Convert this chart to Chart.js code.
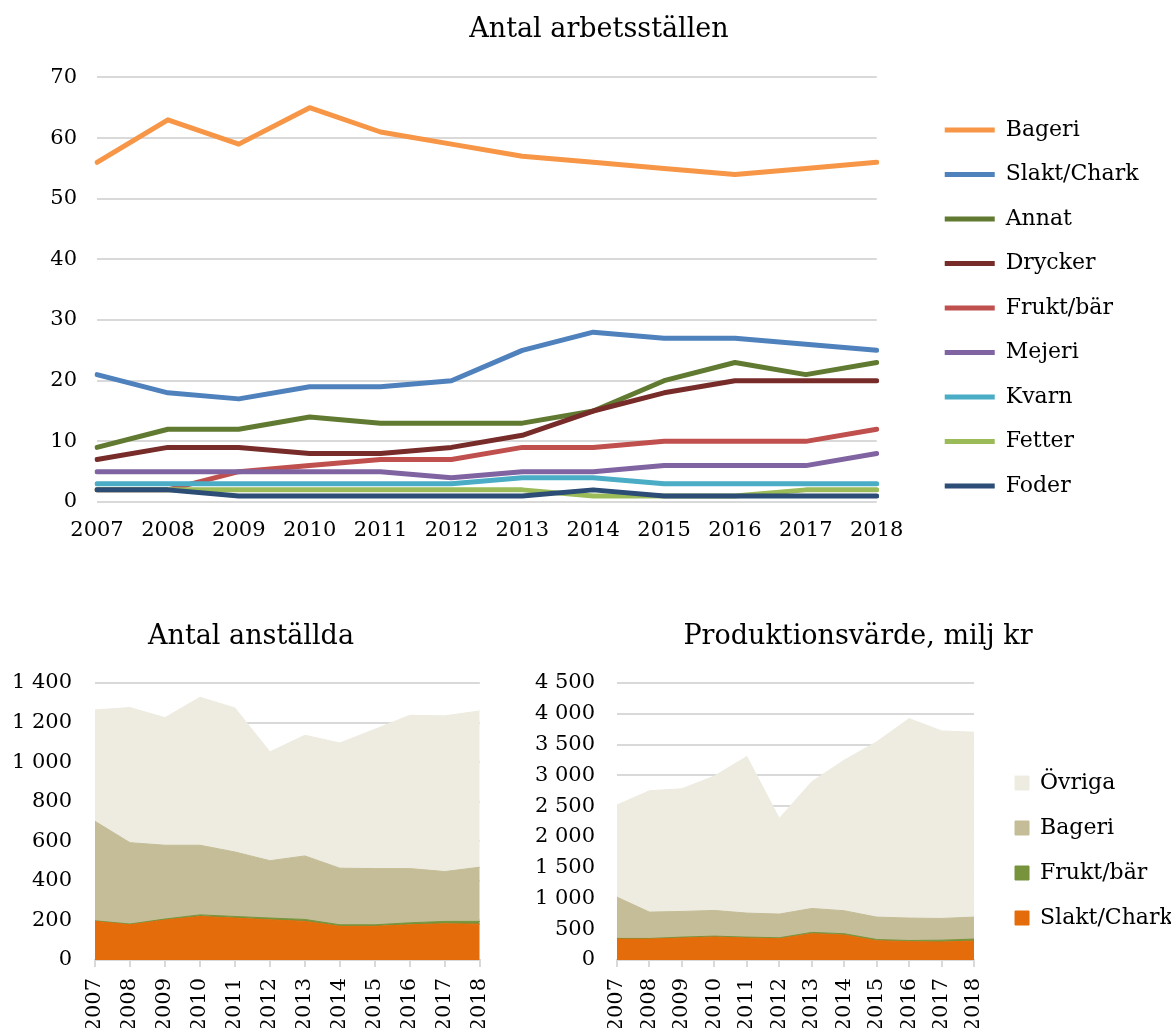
<!DOCTYPE html>
<html><head><meta charset="utf-8">
<script src="https://cdn.jsdelivr.net/npm/chart.js@4"></script>
<style>
html,body{margin:0;padding:0;background:#fff;overflow:hidden;width:1171px;height:1028px;}
canvas{position:absolute;}
#c1{left:0;top:0;}
#c2{left:0;top:600px;}
#c3{left:510px;top:600px;}
</style></head><body>
<canvas id="c1" width="1171" height="560"></canvas>
<canvas id="c2" width="516" height="428"></canvas>
<canvas id="c3" width="664" height="428"></canvas>
<script>
// ---------- data ----------
const YEARS = ['2007','2008','2009','2010','2011','2012','2013','2014','2015','2016','2017','2018'];

// Antal arbetsställen
const TOP_NAMES = ['Bageri','Slakt/Chark','Annat','Drycker','Frukt/bär','Mejeri','Kvarn','Fetter','Foder'];
const bageriSt   = [56,63,59,65,61,59,57,56,55,54,55,56];
const slaktSt    = [21,18,17,19,19,20,25,28,27,27,26,25];
const annatSt    = [9,12,12,14,13,13,13,15,20,23,21,23];
const dryckerSt  = [7,9,9,8,8,9,11,15,18,20,20,20];
const fruktSt    = [2,2,5,6,7,7,9,9,10,10,10,12];
const mejeriSt   = [5,5,5,5,5,4,5,5,6,6,6,8];
const kvarnSt    = [3,3,3,3,3,3,4,4,3,3,3,3];
const fetterSt   = [2,2,2,2,2,2,2,1,1,1,2,2];
const foderSt    = [2,2,1,1,1,1,1,2,1,1,1,1];
const TOP_VALUES = [bageriSt,slaktSt,annatSt,dryckerSt,fruktSt,mejeriSt,kvarnSt,fetterSt,foderSt];
const TOP_TICKS = {min:0, max:70, step:10};

// Antal anställda (stacked)
const AREA_NAMES = ['Slakt/Chark','Frukt/bär','Bageri','Övriga'];
const anstSlakt  = [195,178,202,220,212,203,195,170,170,178,183,181];
const anstFrukt  = [3,4,5,8,8,9,10,8,8,10,12,14];
const anstBageri = [503,411,373,352,326,290,321,286,284,274,252,274];
const anstOvriga = [563,683,645,748,728,550,610,633,704,775,787,790];
const ANST_TICKS = {min:0, max:1400, step:200};

// Produktionsvärde, milj kr (stacked)
const prodSlakt  = [340,340,357,373,357,346,427,405,313,297,292,308];
const prodFrukt  = [10,10,15,15,15,15,21,22,20,20,30,32];
const prodBageri = [671,428,417,417,390,385,389,373,364,364,353,357];
const prodOvriga = [1497,1972,1993,2183,2544,1555,2059,2447,2847,3241,3047,3004];
const PROD_TICKS = {min:0, max:4500, step:500};

// ---------- styles ----------
const TOP_COLORS = ['#F79646','#4F81BD','#617A31','#772C2A','#C0504D','#8064A2','#4BACC6','#9BBB59','#2C4D75'];
const AREA_COLORS = ['#E46C0A','#77933C','#C4BD97','#EEECE1'];
const FAM = "'DejaVu Serif', serif";
const GRID = '#D9D9D9';
const tickFont = {family:FAM, size:21};
const legFont = {family:FAM, size:22};
const titleFont = {family:FAM, size:27, weight:'normal'};
const fmt = v => String(v).replace(/\B(?=(\d{3})+(?!\d))/g, ' ');

const nudge = {
  id:'nudge',
  afterLayout(chart, args, o) {
    if (o.titleX != null && chart.titleBlock) {
      const t = chart.titleBlock, w = t.right - t.left;
      t.left = o.titleX - w/2; t.right = o.titleX + w/2;
    }
    const l = chart.legend;
    if (l) {
      if (typeof l._draw === 'function' && !l._noClip) {
        l._noClip = true;
        l.draw = function(){ if (this.options.display) this._draw(); };
      }
      if (o.dx || o.dy) {
        l.left += o.dx||0; l.right += o.dx||0; l.top += o.dy||0; l.bottom += o.dy||0;
      }
    }
  }
};

// ---------- top chart ----------
new Chart(document.getElementById('c1'), {
  type:'line',
  data:{labels:YEARS, datasets: TOP_NAMES.map((n,i)=>({
    label:n, data:TOP_VALUES[i], borderColor:TOP_COLORS[i], backgroundColor:TOP_COLORS[i],
    borderWidth:5, pointRadius:0, pointHoverRadius:0, pointStyle:'line', tension:0,
    borderCapStyle:'round', borderJoinStyle:'round', fill:false, order: TOP_NAMES.length - i
  }))},
  options:{
    responsive:false, animation:false,
    layout:{padding:{left:0,right:68,top:0,bottom:16}},
    scales:{
      x:{grid:{display:false,drawTicks:false}, border:{display:false},
         ticks:{font:tickFont, color:'#000', padding:16, maxRotation:0, autoSkip:false},
         afterFit(s){ s.height = 42; }},
      y:{min:TOP_TICKS.min, max:TOP_TICKS.max,
         ticks:{stepSize:TOP_TICKS.step, font:tickFont, color:'#000', padding:20},
         grid:{color:GRID, lineWidth:2, drawTicks:false}, border:{display:false},
         afterFit(s){ s.width = 97; }}
    },
    plugins:{
      title:{display:true, text:'Antal arbetsställen', font:titleFont, color:'#000', padding:{top:14,bottom:31}},
      legend:{position:'right', labels:{usePointStyle:true, pointStyleWidth:50, font:legFont, color:'#000', padding:22.5,
              sort:(a,b)=>a.datasetIndex-b.datasetIndex}},
      tooltip:{enabled:false},
      nudge:{titleX:599, dx:45.5, dy:36}
    }
  },
  plugins:[nudge]
});

function areaChart(id, series, ticks, title, opts) {
  return new Chart(document.getElementById(id), {
    type:'line',
    data:{labels:YEARS, datasets: series.map((d,i)=>({
      label:AREA_NAMES[i], data:d, backgroundColor:AREA_COLORS[i], borderColor:AREA_COLORS[i],
      borderWidth:1, pointRadius:0, pointHoverRadius:0, fill: i===0 ? 'origin' : '-1', tension:0
    }))},
    options:{
      responsive:false, animation:false,
      layout:{padding:{left:0,right:opts.padRight,top:0,bottom:0}},
      scales:{
        x:{grid:{display:true, drawOnChartArea:false, drawTicks:true, tickLength:7, color:GRID, lineWidth:2},
           border:{display:true, color:GRID, width:2},
           ticks:{font:tickFont, color:'#000', padding:11, minRotation:90, maxRotation:90, autoSkip:false},
           afterFit(s){ s.height = 68; }},
        y:{stacked:true, min:ticks.min, max:ticks.max,
           ticks:{stepSize:ticks.step, callback:fmt, font:tickFont, color:'#000', padding:opts.yPad},
           grid:{color:GRID, lineWidth:2, drawTicks:false}, border:{display:false},
           afterFit(s){ s.width = opts.yWidth; }}
      },
      plugins:{
        title:{display:true, text:title, font:titleFont, color:'#000', padding:{top:21,bottom:29.6}},
        legend: opts.legend ? {position:'right', labels:{boxWidth:14, boxHeight:14, font:legFont, color:'#000', padding:23,
                sort:(a,b)=>b.datasetIndex-a.datasetIndex}} : {display:false},
        tooltip:{enabled:false},
        nudge:opts.nudge
      }
    },
    plugins:[nudge]
  });
}

areaChart('c2', [anstSlakt,anstFrukt,anstBageri,anstOvriga], ANST_TICKS, 'Antal anställda',
  {padRight:0, yPad:23, yWidth:95, legend:false, nudge:{titleX:251}});
areaChart('c3', [prodSlakt,prodFrukt,prodBageri,prodOvriga], PROD_TICKS, 'Produktionsvärde, milj kr',
  {padRight:45.3, yPad:22, yWidth:107, legend:true, nudge:{titleX:348, dx:18, dy:36.5}});
</script>
</body></html>
